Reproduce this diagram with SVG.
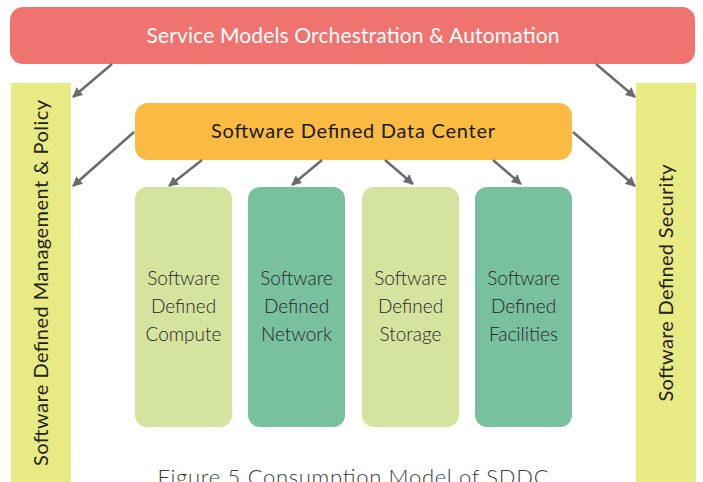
<svg xmlns="http://www.w3.org/2000/svg" width="703" height="482" viewBox="0 0 703 482">
  <defs>
    <marker id="arrow" viewBox="0 0 10 10" refX="9" refY="5" markerWidth="4" markerHeight="4" orient="auto" markerUnits="strokeWidth">
      <path d="M0,0 L10,5 L0,10 z" fill="#6b6b6b"/>
    </marker>
    <style>
      .lbl { font-family: Lato, "Open Sans", sans-serif; text-anchor: middle; }
      .box-text { font-size: 19px; font-weight: 300; fill: #262626; }
      .side-text { font-size: 20px; fill: #222222; }
      .light { fill: #d4e39e; }
      .dark { fill: #79c09f; }
      .side { fill: #e8ea84; }
      .conn { stroke: #6b6b6b; stroke-width: 2.5; fill: none; marker-end: url(#arrow); }
    </style>
  </defs>
  <rect width="703" height="482" fill="#ffffff"/>

  <!-- top layer: orchestration -->
  <g id="orchestration">
    <rect x="10" y="7" width="685" height="57" rx="13" fill="#ef7470"/>
    <text class="lbl" x="353" y="43" font-size="21" fill="#ffffff" textLength="413">Service Models Orchestration &amp; Automation</text>
  </g>

  <!-- side columns -->
  <g id="management">
    <rect class="side" x="11" y="83" width="60" height="405"/>
    <text class="lbl side-text" transform="translate(48,283) rotate(-90)" textLength="366">Software Defined Management &amp; Policy</text>
  </g>
  <g id="security">
    <rect class="side" x="636" y="83" width="60" height="405"/>
    <text class="lbl side-text" transform="translate(673,283) rotate(-90)" textLength="237">Software Defined Security</text>
  </g>

  <!-- data center -->
  <g id="sddc">
    <rect x="135" y="103" width="437" height="57" rx="13" fill="#fbbb42"/>
    <text class="lbl" x="353" y="138" font-size="20" fill="#1a1a1a" textLength="284">Software Defined Data Center</text>
  </g>

  <!-- resource pillars -->
  <g id="compute">
    <rect class="light" x="135" y="187" width="97" height="240" rx="12"/>
    <text class="lbl box-text" x="183.5" y="285">Software</text>
    <text class="lbl box-text" x="183.5" y="313">Defined</text>
    <text class="lbl box-text" x="183.5" y="341">Compute</text>
  </g>
  <g id="network">
    <rect class="dark" x="248" y="187" width="97" height="240" rx="12"/>
    <text class="lbl box-text" x="296.5" y="285">Software</text>
    <text class="lbl box-text" x="296.5" y="313">Defined</text>
    <text class="lbl box-text" x="296.5" y="341">Network</text>
  </g>
  <g id="storage">
    <rect class="light" x="362" y="187" width="97" height="240" rx="12"/>
    <text class="lbl box-text" x="410.5" y="285">Software</text>
    <text class="lbl box-text" x="410.5" y="313">Defined</text>
    <text class="lbl box-text" x="410.5" y="341">Storage</text>
  </g>
  <g id="facilities">
    <rect class="dark" x="475" y="187" width="97" height="240" rx="12"/>
    <text class="lbl box-text" x="523.5" y="285">Software</text>
    <text class="lbl box-text" x="523.5" y="313">Defined</text>
    <text class="lbl box-text" x="523.5" y="341">Facilities</text>
  </g>

  <!-- connectors -->
  <g id="connectors">
    <line class="conn" x1="112" y1="64" x2="73" y2="97"/>
    <line class="conn" x1="596" y1="64" x2="635" y2="97"/>
    <line class="conn" x1="134" y1="132" x2="73" y2="186"/>
    <line class="conn" x1="573" y1="132" x2="635" y2="186"/>
    <line class="conn" x1="202" y1="160" x2="169" y2="186"/>
    <line class="conn" x1="322" y1="160" x2="292" y2="185"/>
    <line class="conn" x1="385" y1="160" x2="413" y2="184"/>
    <line class="conn" x1="493" y1="160" x2="521" y2="184"/>
  </g>

  <!-- caption -->
  <text class="lbl" x="353" y="485" font-size="22" font-weight="300" fill="#3a3a3a" textLength="391">Figure 5 Consumption Model of SDDC</text>
</svg>
